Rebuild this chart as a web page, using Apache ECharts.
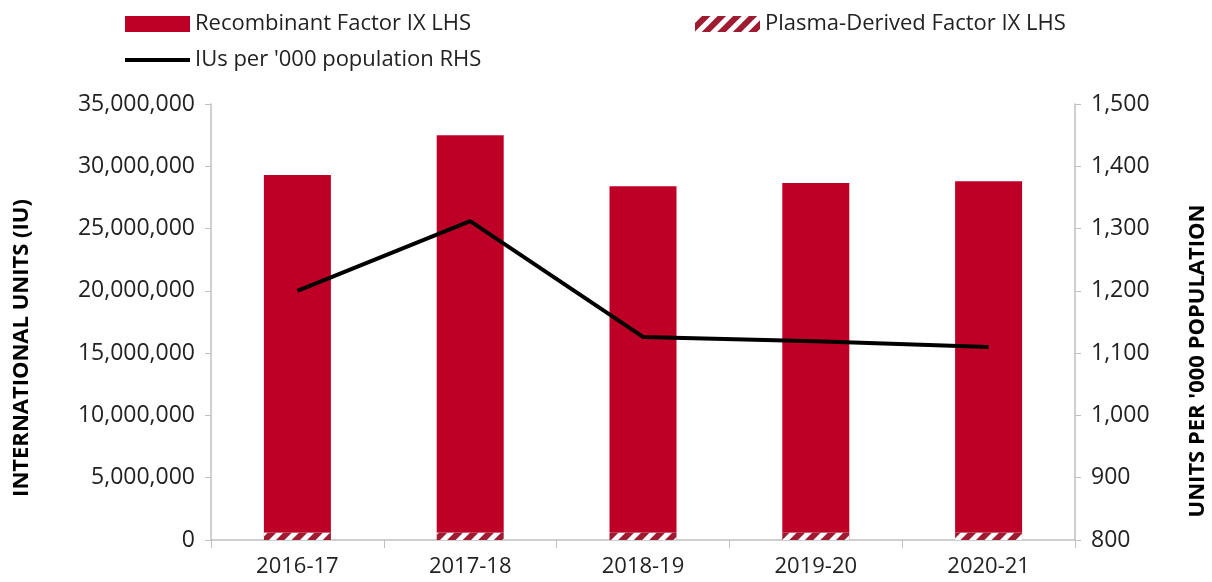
<!DOCTYPE html>
<html>
<head>
<meta charset="utf-8">
<script src="https://cdn.jsdelivr.net/npm/echarts@6/dist/echarts.min.js"></script>
<style>
  html, body { margin: 0; padding: 0; background: #fff; }
  #chart { width: 1212px; height: 582px; }
</style>
</head>
<body>
<div id="chart"></div>
<script>
// data
var years = ['2016-17', '2017-18', '2018-19', '2019-20', '2020-21'];
var recombinant = [28700000, 31900000, 27800000, 28050000, 28200000];
var plasma = [600000, 600000, 600000, 600000, 600000];
var iusPerPop = [1200, 1312, 1126, 1119, 1110];

var font = '"Open Sans", sans-serif';
var txt = '#222';
var axisGrey = '#bfbfbf';

function fmt(v) {
    return v.toLocaleString('en-US');
}

var chartDom = document.getElementById('chart');
var myChart = echarts.init(chartDom);

var option = {
    animation: false,
    textStyle: { fontFamily: font },
    legend: [
        {
            left: 120, top: 8,
            data: [{ name: 'Recombinant Factor IX LHS', icon: 'rect' }],
            itemWidth: 65, itemHeight: 16, itemGap: 5,
            textStyle: { fontSize: 22, color: txt, fontFamily: font }
        },
        {
            left: 690, top: 8,
            data: [{ name: 'Plasma-Derived Factor IX LHS', icon: 'rect' }],
            itemWidth: 65, itemHeight: 16, itemGap: 5,
            textStyle: { fontSize: 22, color: txt, fontFamily: font }
        },
        {
            left: 120, top: 44,
            data: [{ name: 'IUs per \'000 population RHS', icon: 'rect' }],
            itemWidth: 65, itemHeight: 4, itemGap: 5,
            textStyle: { fontSize: 22, color: txt, fontFamily: font }
        }
    ],
    grid: { left: 211, right: 137, top: 104, bottom: 42 },
    xAxis: {
        type: 'category',
        data: years,
        axisLine: { lineStyle: { color: axisGrey, width: 1.5 } },
        axisTick: { show: true, length: 8, lineStyle: { color: axisGrey } },
        axisLabel: { fontSize: 22, color: txt, margin: 16 }
    },
    yAxis: [
        {
            type: 'value',
            min: 0, max: 35000000, interval: 5000000,
            axisLine: { show: true, lineStyle: { color: axisGrey, width: 1.5 } },
            axisTick: { show: true, length: 6, lineStyle: { color: axisGrey } },
            splitLine: { show: false },
            axisLabel: { fontSize: 23, color: txt, margin: 16, formatter: fmt }
        },
        {
            type: 'value',
            min: 800, max: 1500, interval: 100,
            axisLine: { show: true, lineStyle: { color: axisGrey, width: 1.5 } },
            axisTick: { show: true, length: 6, lineStyle: { color: axisGrey } },
            splitLine: { show: false },
            axisLabel: { fontSize: 23, color: txt, margin: 16, formatter: fmt }
        }
    ],
    graphic: [
        {
            type: 'text', x: 22, y: 348, rotation: Math.PI / 2,
            style: {
                text: 'INTERNATIONAL UNITS (IU)', fontSize: 22, fontWeight: 'bold',
                fill: '#000', fontFamily: font, textAlign: 'center', textVerticalAlign: 'middle'
            }
        },
        {
            type: 'text', x: 1198, y: 361, rotation: Math.PI / 2,
            style: {
                text: 'UNITS PER \'000 POPULATION', fontSize: 22, fontWeight: 'bold',
                fill: '#000', fontFamily: font, textAlign: 'center', textVerticalAlign: 'middle'
            }
        }
    ],
    series: [
        {
            name: 'Plasma-Derived Factor IX LHS',
            type: 'bar',
            stack: 'iu',
            barWidth: 67,
            data: plasma,
            itemStyle: {
                color: '#9e1b32',
                decal: {
                    color: '#ffffff',
                    symbol: 'rect',
                    dashArrayX: [1, 0],
                    dashArrayY: [5, 6],
                    rotation: -Math.PI / 4
                }
            }
        },
        {
            name: 'Recombinant Factor IX LHS',
            type: 'bar',
            stack: 'iu',
            barWidth: 67,
            data: recombinant,
            itemStyle: { color: '#be0027' }
        },
        {
            name: 'IUs per \'000 population RHS',
            type: 'line',
            yAxisIndex: 1,
            data: iusPerPop,
            symbol: 'none',
            lineStyle: { color: '#000', width: 4 },
            itemStyle: { color: '#000' }
        }
    ]
};

option && myChart.setOption(option);
</script>
</body>
</html>
